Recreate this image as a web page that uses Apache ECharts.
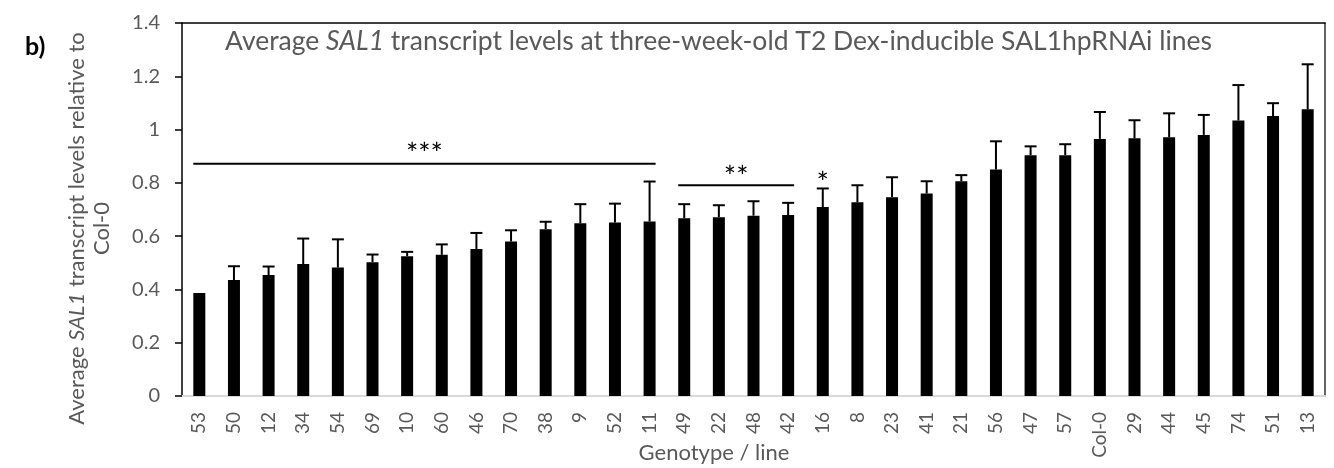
<!DOCTYPE html>
<html>
<head>
<meta charset="utf-8">
<script src="https://cdn.jsdelivr.net/npm/echarts@6/dist/echarts.min.js"></script>
<style>html,body{margin:0;padding:0;background:#fff}#c{width:1334px;height:468px}</style>
</head>
<body>
<div id="c"></div>
<script>
const categories = ['53','50','12','34','54','69','10','60','46','70','38','9','52','11','49','22','48','42','16','8','23','41','21','56','47','57','Col-0','29','44','45','74','51','13'];
const means = [0.387,0.435,0.454,0.495,0.482,0.502,0.525,0.530,0.552,0.580,0.626,0.648,0.651,0.655,0.667,0.671,0.677,0.679,0.709,0.727,0.746,0.760,0.806,0.850,0.904,0.904,0.965,0.967,0.971,0.980,1.034,1.051,1.076];
const errors = [0,0.052,0.032,0.096,0.106,0.029,0.016,0.039,0.060,0.042,0.028,0.072,0.071,0.150,0.053,0.045,0.054,0.046,0.070,0.064,0.075,0.046,0.023,0.106,0.033,0.041,0.101,0.068,0.090,0.075,0.133,0.048,0.169];
const sigStart = [0,14,18];
const sigEnd = [13,17,18];
const sigLineLevel = [0.872,0.791,null];
const sigLabel = ['***','**','*'];
const sigLabelLevel = [0.934,0.848,0.825];

const FONT = 'Lato';
const GRAY = '#595959';
const BAR_W = 12;
const STAR_SIZE = 29;

const chart = echarts.init(document.getElementById('c'));
chart.setOption({
  animation: false,
  backgroundColor: '#fff',
  title: {
    text: '{n|Average }{i|SAL1}{n| transcript levels at three-week-old T2 Dex-inducible SAL1hpRNAi lines}',
    left: 220, top: 23,
    textStyle: {
      fontFamily: FONT, fontSize: 26.5, fontWeight: 'normal', color: GRAY,
      rich: {
        n: {fontFamily: FONT, fontSize: 26.5, color: GRAY},
        i: {fontFamily: FONT, fontSize: 26.5, color: GRAY, fontStyle: 'italic'}
      }
    }
  },
  graphic: [{
    type: 'text', left: 25, top: 34,
    style: {text: 'b)', fontFamily: FONT, fontSize: 25, fontWeight: 'bold', fill: '#000'}
  }],
  grid: {left: 182, right: 9, top: 23, bottom: 72, containLabel: false, outerBoundsMode: 'none'},
  xAxis: [{
    type: 'category', data: categories,
    axisLine: {lineStyle: {color: '#d9d9d9', width: 2}},
    axisTick: {show: false},
    axisLabel: {rotate: 90, color: GRAY, fontFamily: FONT, fontSize: 19, margin: 16, interval: 0},
    name: 'Genotype / line', nameLocation: 'middle', nameGap: 46, nameMoveOverlap: false,
    nameTextStyle: {color: GRAY, fontFamily: FONT, fontSize: 22, padding: [0, 79, 0, 0]}
  }, {
    type: 'value', position: 'top', min: 0, max: 1,
    axisLine: {show: true, onZero: false, lineStyle: {color: '#000', width: 1.5}},
    axisTick: {show: false}, axisLabel: {show: false}, splitLine: {show: false}
  }],
  yAxis: [{
    type: 'value', min: 0, max: 1.4, interval: 0.2,
    axisLine: {show: true, lineStyle: {color: '#000', width: 1.5}},
    axisTick: {show: true, length: 7, lineStyle: {color: '#000', width: 1.5}},
    axisLabel: {color: GRAY, fontFamily: FONT, fontSize: 20, margin: 22},
    splitLine: {show: false},
    name: '{n|Average }{i|SAL1}{n| transcript levels relative to}\n{n|Col-0}',
    nameLocation: 'middle', nameRotate: 90, nameGap: 68, nameMoveOverlap: false,
    nameTextStyle: {
      color: GRAY, fontFamily: FONT, fontSize: 22, lineHeight: 25, padding: [0, 38, 0, 0],
      rich: {
        n: {color: GRAY, fontFamily: FONT, fontSize: 22, lineHeight: 25},
        i: {color: GRAY, fontFamily: FONT, fontSize: 22, lineHeight: 25, fontStyle: 'italic'}
      }
    }
  }, {
    type: 'value', position: 'right', min: 0, max: 1,
    axisLine: {show: true, onZero: false, lineStyle: {color: '#333', width: 1.5}},
    axisTick: {show: false}, axisLabel: {show: false}, splitLine: {show: false}
  }],
  series: [{
    type: 'bar', data: means, barWidth: BAR_W, xAxisIndex: 0, yAxisIndex: 0,
    itemStyle: {color: '#000'}, z: 2
  }, {
    type: 'custom', xAxisIndex: 0, yAxisIndex: 0, z: 3,
    data: categories.map((c, i) => [i, means[i], errors[i]]),
    encode: {x: 0, y: 1},
    renderItem: function (params, api) {
      const i = api.value(0), m = api.value(1), e = api.value(2);
      if (!e) return null;
      const p0 = api.coord([i, m]);
      const p1 = api.coord([i, m + e]);
      const hw = BAR_W / 2;
      const st = {stroke: '#000', lineWidth: 2};
      return {type: 'group', children: [
        {type: 'line', shape: {x1: p0[0], y1: p0[1], x2: p1[0], y2: p1[1]}, style: st},
        {type: 'line', shape: {x1: p1[0] - hw, y1: p1[1], x2: p1[0] + hw, y2: p1[1]}, style: st}
      ]};
    }
  }, {
    type: 'custom', xAxisIndex: 0, yAxisIndex: 0, z: 4,
    data: sigStart.map((s, k) => [s, sigEnd[k], sigLineLevel[k] == null ? NaN : sigLineLevel[k], sigLabelLevel[k], k]),
    encode: {x: [0, 1], y: [3]},
    renderItem: function (params, api) {
      const s = api.value(0), e = api.value(1), lv = api.value(2), tl = api.value(3), k = api.value(4);
      const hw = BAR_W / 2;
      const children = [];
      if (!isNaN(lv) && lv != null) {
        const a = api.coord([s, lv]);
        const b = api.coord([e, lv]);
        children.push({type: 'line', shape: {x1: a[0] - hw, y1: a[1], x2: b[0] + hw, y2: b[1]}, style: {stroke: '#000', lineWidth: 2}});
      }
      const ps = api.coord([s, tl]);
      const pe = api.coord([e, tl]);
      children.push({type: 'text', style: {
        x: (ps[0] + pe[0]) / 2, y: ps[1] + STAR_SIZE * 0.25, text: sigLabel[k],
        fill: '#000', fontFamily: FONT, fontSize: STAR_SIZE, align: 'center', verticalAlign: 'middle'
      }});
      return {type: 'group', children: children};
    }
  }]
});
</script>
</body>
</html>
